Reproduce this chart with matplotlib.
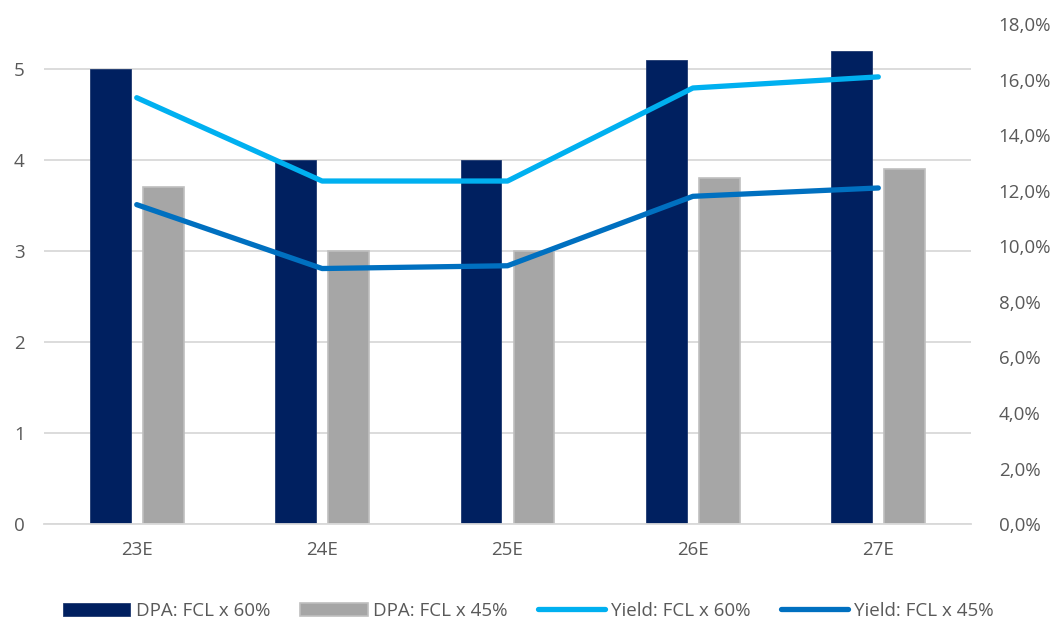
import matplotlib
matplotlib.use("Agg")
import matplotlib.pyplot as plt
from matplotlib.ticker import FuncFormatter
import numpy as np

categories = ["23E", "24E", "25E", "26E", "27E"]
dpa_60 = [5.0, 4.0, 4.0, 5.1, 5.2]
dpa_45 = [3.7, 3.0, 3.0, 3.8, 3.9]
yield_60 = [15.35, 12.35, 12.35, 15.7, 16.1]
yield_45 = [11.5, 9.2, 9.3, 11.8, 12.1]

plt.rcParams['font.family'] = ['Open Sans', 'DejaVu Sans']
txt = '#595959'

fig = plt.figure(figsize=(10.56, 6.18), dpi=100)
ax = fig.add_axes([0.0417, 0.152, 0.8778, 0.809])
ax2 = ax.twinx()

x = np.arange(len(categories))
w = 0.22
ax.bar(x - 0.143, dpa_60, w, color='#002060', edgecolor='#1F3A70', linewidth=0.6,
       label='DPA: FCL x 60%', zorder=2)
ax.bar(x + 0.143, dpa_45, w, color='#A6A6A6', edgecolor='#BFBFBF', linewidth=1.2,
       label='DPA: FCL x 45%', zorder=2)
ax2.plot(x, yield_60, color='#00B0F0', lw=3.8, solid_capstyle='round',
         label='Yield: FCL x 60%')
ax2.plot(x, yield_45, color='#0070C0', lw=3.8, solid_capstyle='round',
         label='Yield: FCL x 45%')

ax.set_xlim(-0.5, 4.5)
ax.set_ylim(0, 5.49)
ax.set_yticks([0, 1, 2, 3, 4, 5])
ax2.set_ylim(0, 18)
ax2.set_yticks(np.arange(0, 19, 2))
ax2.yaxis.set_major_formatter(FuncFormatter(lambda v, p: f"{v:.1f}%".replace('.', ',')))

ax.set_xticks(x)
ax.set_xticklabels(categories)
ax.grid(axis='y', color='#D9D9D9', lw=1.3, zorder=0)
ax.set_axisbelow(True)
for a in (ax, ax2):
    for s in a.spines.values():
        s.set_visible(False)
    a.tick_params(length=0, colors=txt, labelsize=13.5)
ax.spines['bottom'].set_visible(True)
ax.spines['bottom'].set_color('#D9D9D9')
ax.spines['bottom'].set_linewidth(1.3)
ax.tick_params(axis='x', pad=12)
ax.tick_params(axis='y', pad=14)
ax2.tick_params(axis='y', pad=20)

h1, l1 = ax.get_legend_handles_labels()
h2, l2 = ax2.get_legend_handles_labels()
leg = fig.legend(h1 + h2, l1 + l2, loc='lower center', bbox_to_anchor=(0.5, -0.03),
                 ncol=4, frameon=False, fontsize=13.5, handlelength=3.6,
                 handletextpad=0.3, columnspacing=1.6, labelcolor=txt)
fig.savefig("out.png", dpi=100)
